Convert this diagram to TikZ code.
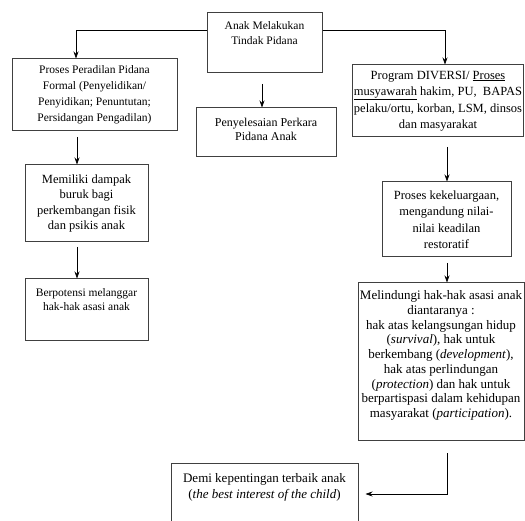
\documentclass[tikz,border=0pt]{standalone}
\usepackage{fontspec}
\setmainfont{Liberation Serif}
\usetikzlibrary{arrows.meta, positioning}

\begin{document}
\begin{tikzpicture}[x=1pt, y=-1pt,
    box/.style={draw=black!75, line width=1pt, align=center, inner sep=1pt},
    txt/.style={align=center, inner sep=0pt},
    arr/.style={-{Stealth[length=7pt, width=5pt]}, line width=0.7pt}]
    \useasboundingbox (0,0) rectangle (525,521);
    \clip (0,0) rectangle (525,521);

    % Top node
    \node[box, minimum width=115pt, minimum height=60pt] (crime) at (264.5,43) {};
    \node[txt, font=\fontsize{11.5}{15}\selectfont, below=9pt of crime.north] (crimetxt) {Anak Melakukan\\Tindak Pidana};

    % Left column
    \node[box, minimum width=165pt, minimum height=72pt, font=\fontsize{11.5}{16}\selectfont] (formal) at (94.5,95)
        {Proses Peradilan Pidana\\Formal (Penyelidikan/\\Penyidikan; Penuntutan;\\Persidangan Pengadilan)};
    \node[box, minimum width=123pt, minimum height=77pt, font=\fontsize{12.5}{15.5}\selectfont] (impact) at (86.5,203.5)
        {Memiliki dampak\\buruk bagi\\perkembangan fisik\\dan psikis anak};
    \node[box, minimum width=123pt, minimum height=62pt] (violate) at (86.5,310) {};
    \node[txt, font=\fontsize{11.5}{14}\selectfont, below=10pt of violate.north] (violatetxt) {Berpotensi melanggar\\hak-hak asasi anak};

    % Middle node
    \node[box, minimum width=140pt, minimum height=49pt] (settle) at (266,132.5) {};
    \node[txt, font=\fontsize{12}{14.5}\selectfont, below=10pt of settle.north] (settletxt) {Penyelesaian Perkara\\Pidana Anak};

    % Right column
    \node[box, minimum width=170pt, minimum height=72pt, font=\fontsize{12.5}{16.5}\selectfont] (diversi) at (438,101)
        {Program DIVERSI/ \underline{Proses}\\\underline{musyawarah} hakim, PU,~ BAPAS\\pelaku/ortu, korban, LSM, dinsos\\dan masyarakat};
    \node[box, minimum width=129pt, minimum height=75pt, font=\fontsize{12.5}{16.5}\selectfont] (family) at (446.5,219.5)
        {Proses kekeluargaan,\\mengandung nilai-\\nilai keadilan\\restoratif};
    \node[box, minimum width=166pt, minimum height=157pt] (protect) at (441,361.5) {};
    \node[txt, font=\fontsize{13}{14.75}\selectfont, below=8pt of protect.north] (protecttxt)
        {Melindungi hak-hak asasi anak\\diantaranya :\\hak atas kelangsungan hidup\\(\textit{survival}), hak untuk\\berkembang (\textit{development}),\\hak atas perlindungan\\(\textit{protection}) dan hak untuk\\berpartispasi dalam kehidupan\\masyarakat (\textit{participation}).};

    % Bottom node
    \node[box, minimum width=187pt, minimum height=62pt] (best) at (264.5,494) {};
    \node[txt, font=\fontsize{13}{16}\selectfont, below=11pt of best.north] (besttxt) {Demi kepentingan terbaik anak\\(\textit{the best interest of the child})};

    % Edges
    \draw[arr] ([yshift=13pt]crime.west) -| ([xshift=-18.5pt]formal.north);
    \draw[arr] ([yshift=13pt]crime.east) -| ([xshift=7pt]diversi.north);
    \coordinate (m1) at (262,84);
    \draw[arr] (m1) -- (m1 |- settle.north);
    \coordinate (l1) at (77,137);
    \draw[arr] (l1) -- (l1 |- impact.north);
    \coordinate (l2) at (77,247);
    \draw[arr] (l2) -- (l2 |- violate.north);
    \coordinate (r1) at (447,147);
    \draw[arr] (r1) -- (r1 |- family.north);
    \coordinate (r2) at (447,263);
    \draw[arr] (r2) -- (r2 |- protect.north);
    \coordinate (r3) at (447,453);
    \draw[arr] (r3) |- ([xshift=7pt]best.east);
\end{tikzpicture}
\end{document}
